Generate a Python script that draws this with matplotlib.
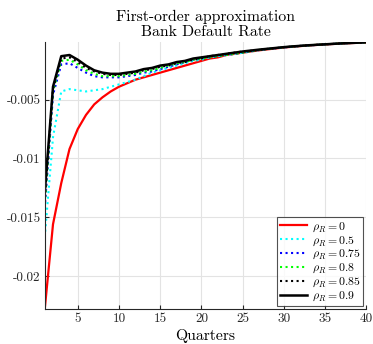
import matplotlib
matplotlib.use('Agg')
import matplotlib.pyplot as plt
import numpy as np

plt.rcParams['font.family'] = ['cmr10', 'DejaVu Serif']
plt.rcParams['mathtext.fontset'] = 'cm'
plt.rcParams['axes.unicode_minus'] = False

# quarters
quarters = np.arange(1, 41)

# impulse responses
rho_0 = [-0.0228, -0.0156, -0.0121, -0.0092, -0.0075, -0.0063, -0.0054, -0.0048, -0.0043, -0.0039,
         -0.0036, -0.0033, -0.0031, -0.0029, -0.0027, -0.0025, -0.0023, -0.0021, -0.0019, -0.0017,
         -0.0015, -0.0014, -0.0012, -0.0011, -0.0010, -0.0009, -0.0008, -0.00072, -0.00064, -0.00056,
         -0.00050, -0.00044, -0.00039, -0.00034, -0.00030, -0.00026, -0.00022, -0.00019, -0.00016, -0.00013]
rho_05 = [-0.0167, -0.0082, -0.0043, -0.0041, -0.0042, -0.0043, -0.0042, -0.0041, -0.0039, -0.0037,
          -0.0035, -0.0033, -0.0030, -0.0027, -0.0025, -0.0023, -0.0021, -0.0019, -0.0017, -0.0016,
          -0.0014, -0.0013, -0.0012, -0.0011, -0.0010, -0.0009, -0.00078, -0.00070, -0.00062, -0.00055,
          -0.00049, -0.00043, -0.00038, -0.00034, -0.00029, -0.00025, -0.00022, -0.00018, -0.00015, -0.00012]
rho_075 = [-0.0142, -0.0046, -0.0020, -0.0019, -0.0023, -0.0027, -0.0030, -0.0031, -0.0031, -0.0031,
           -0.0030, -0.0029, -0.0027, -0.0026, -0.0024, -0.0022, -0.0020, -0.0018, -0.0016, -0.0015,
           -0.0014, -0.0013, -0.0012, -0.0011, -0.0010, -0.00088, -0.00078, -0.00070, -0.00062, -0.00055,
           -0.00049, -0.00043, -0.00038, -0.00034, -0.00029, -0.00025, -0.00022, -0.00018, -0.00015, -0.00012]
rho_08 = [-0.0138, -0.0043, -0.0017, -0.0016, -0.0020, -0.0025, -0.0028, -0.0030, -0.0030, -0.0030,
          -0.0029, -0.0028, -0.0026, -0.0025, -0.0023, -0.0021, -0.0019, -0.0018, -0.0016, -0.0015,
          -0.0014, -0.0013, -0.0012, -0.0011, -0.0010, -0.00086, -0.00077, -0.00069, -0.00061, -0.00054,
          -0.00048, -0.00043, -0.00038, -0.00033, -0.00029, -0.00025, -0.00021, -0.00018, -0.00015, -0.00012]
rho_085 = [-0.0134, -0.0041, -0.0015, -0.0014, -0.0018, -0.0023, -0.0026, -0.0028, -0.0029, -0.0029,
           -0.0028, -0.0027, -0.0025, -0.0024, -0.0022, -0.0021, -0.0019, -0.0018, -0.0016, -0.0015,
           -0.0013, -0.0012, -0.0011, -0.0010, -0.0009, -0.00084, -0.00076, -0.00068, -0.00061, -0.00054,
           -0.00048, -0.00042, -0.00037, -0.00033, -0.00029, -0.00025, -0.00021, -0.00018, -0.00015, -0.00012]
rho_09 = [-0.0129, -0.0039, -0.0013, -0.0012, -0.0016, -0.0021, -0.0025, -0.0027, -0.0028, -0.0028,
          -0.0027, -0.0026, -0.0024, -0.0023, -0.0021, -0.0020, -0.0018, -0.0017, -0.0015, -0.0014,
          -0.0013, -0.0012, -0.0011, -0.0010, -0.0009, -0.00082, -0.00074, -0.00067, -0.00060, -0.00053,
          -0.00047, -0.00042, -0.00037, -0.00033, -0.00029, -0.00025, -0.00021, -0.00018, -0.00015, -0.00012]

labels = [r'$\rho_R = 0$', r'$\rho_R = 0.5$', r'$\rho_R = 0.75$',
          r'$\rho_R = 0.8$', r'$\rho_R = 0.85$', r'$\rho_R = 0.9$']
xticks = [5, 10, 15, 20, 25, 30, 35, 40]
yticks = [-0.02, -0.015, -0.01, -0.005]
ytick_labels = ['-0.02', '-0.015', '-0.01', '-0.005']

fig = plt.figure(figsize=(3.73, 3.44), dpi=100)
ax = fig.add_axes([0.12, 0.102, 0.862, 0.776])

ax.plot(quarters, rho_0, color='red', lw=1.6, label=labels[0])
ax.plot(quarters, rho_05, color='cyan', lw=1.5, ls=':', label=labels[1])
ax.plot(quarters, rho_075, color='blue', lw=1.5, ls=':', label=labels[2])
ax.plot(quarters, rho_08, color='lime', lw=1.5, ls=':', label=labels[3])
ax.plot(quarters, rho_085, color='black', lw=1.5, ls=':', label=labels[4])
ax.plot(quarters, rho_09, color='black', lw=1.8, label=labels[5])

allv = np.concatenate([rho_0, rho_05, rho_075, rho_08, rho_085, rho_09])
ax.set_xlim(1, 40)
ax.set_ylim(allv.min(), allv.max() + 0.00003)

ax.set_xticks(xticks)
ax.set_yticks(yticks)
ax.set_yticklabels(ytick_labels)
ax.tick_params(direction='in', length=3, labelsize=9.5, colors='#262626', pad=3)
ax.grid(True, color='#e3e3e3', lw=0.8)
ax.set_axisbelow(True)
for s in ['top', 'right']:
    ax.spines[s].set_visible(False)
for s in ['left', 'bottom']:
    ax.spines[s].set_color('#262626')

ax.set_xlabel('Quarters', fontsize=11.3, labelpad=3)
ax.set_title('First-order approximation\nBank Default Rate', fontsize=11.3, pad=4, linespacing=1.2)

leg = ax.legend(loc='lower right', fontsize=8.5, borderaxespad=0.25, frameon=True, fancybox=False,
                handlelength=2.35, handletextpad=0.35, labelspacing=0.05, borderpad=0.25)
leg.get_frame().set_edgecolor('#262626')
leg.get_frame().set_linewidth(0.8)

fig.savefig('out.png', dpi=100)
